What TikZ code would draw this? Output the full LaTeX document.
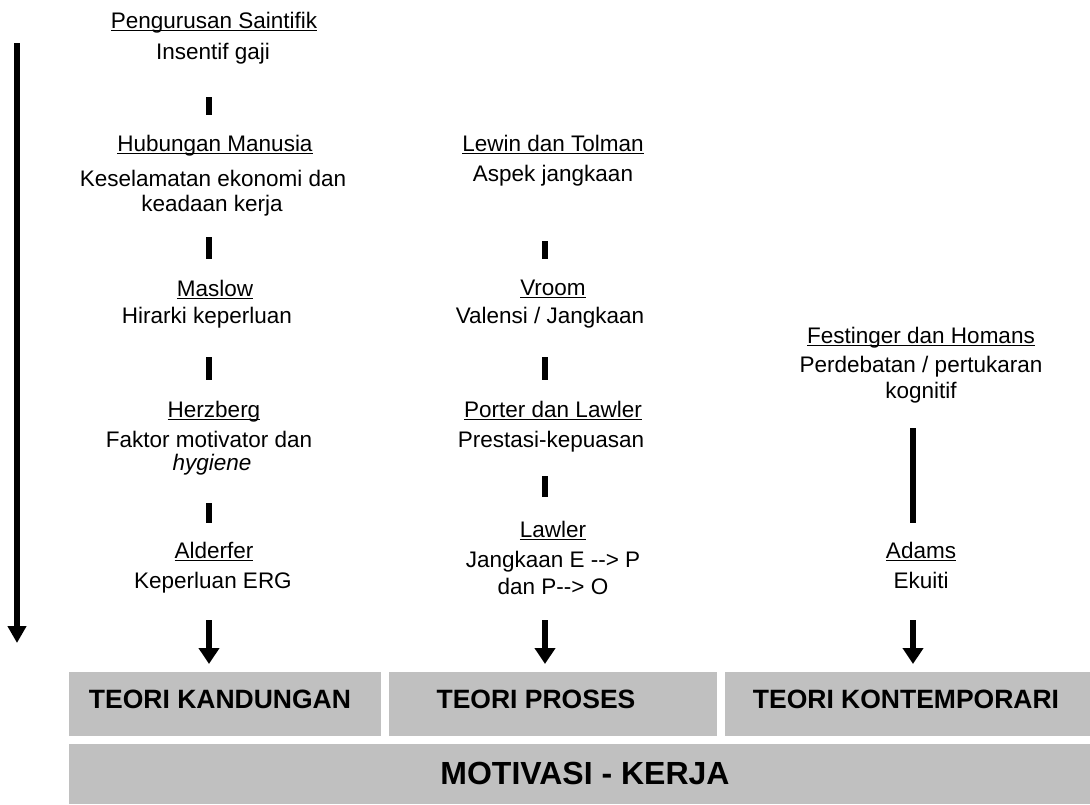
\documentclass[tikz,border=0pt]{standalone}
\usepackage{fontspec}
\setmainfont{Liberation Sans}
\usetikzlibrary{arrows.meta}

\definecolor{panelgray}{RGB}{192,192,192}

% underlined heading with the rule at a fixed depth below the baseline
\newsavebox\hdbox
\newcommand\hd[1]{\sbox\hdbox{#1}\rlap{\rule[-3.2pt]{\wd\hdbox}{1.5pt}}\usebox\hdbox}

\tikzset{
  txt/.style={anchor=base, inner sep=0pt, font=\fontsize{22.5}{26}\selectfont},
  lbl/.style={anchor=base, inner sep=0pt, font=\bfseries\fontsize{26.5}{30}\selectfont},
  bigl/.style={anchor=base, inner sep=0pt, font=\bfseries\fontsize{32}{36}\selectfont},
  bar/.style={line width=5.5pt},
  arr/.style={line width=6pt, -{Triangle[length=16pt,width=20pt]}},
  longarr/.style={line width=6pt, -{Triangle[length=17pt,width=18pt]}},
  panel/.style={fill=panelgray, draw=none, inner sep=0pt, anchor=north west},
}

\begin{document}
\begin{tikzpicture}[x=1pt,y=-1pt]
\useasboundingbox (0,0) rectangle (1090,804);

% ---- panels at the foot
\node[panel, minimum width=312pt, minimum height=64pt] (k1) at (69,672) {};
\node[panel, minimum width=328pt, minimum height=64pt] (k2) at (389,672) {};
\node[panel, minimum width=365pt, minimum height=64pt] (k3) at (725,672) {};
\node[panel, minimum width=1021pt, minimum height=60pt] (mk) at (69,744) {};

\node[lbl] (k1t) at (220,708) {TEORI KANDUNGAN};
\node[lbl] (k2t) at (536,708) {TEORI PROSES};
\node[lbl] (k3t) at (906,708) {TEORI KONTEMPORARI};
\node[bigl] (mkt) at (585,784) {MOTIVASI - KERJA};

% ---- content theories
\node[txt] (a1) at (214,28) {\hd{Pengurusan Saintifik}};
\node[txt] (a2) at (213,59) {Insentif gaji};
\node[txt] (b1) at (215,151) {\hd{Hubungan Manusia}};
\node[txt] (b2) at (213,186) {Keselamatan ekonomi dan};
\node[txt] (b3) at (212,211) {keadaan kerja};
\node[txt] (c1) at (215,296) {\hd{Maslow}};
\node[txt] (c2) at (207,323) {Hirarki keperluan};
\node[txt] (d1) at (214,417) {\hd{Herzberg}};
\node[txt] (d2) at (209,447) {Faktor motivator dan};
\node[txt] (d3) at (212,470) {\textit{hygiene}};
\node[txt] (e1) at (214,558) {\hd{Alderfer}};
\node[txt] (e2) at (213,588) {Keperluan ERG};

% ---- process theories
\node[txt] (f1) at (553,151) {\hd{Lewin dan Tolman}};
\node[txt] (f2) at (553,181) {Aspek jangkaan};
\node[txt] (g1) at (553,295) {\hd{Vroom}};
\node[txt] (g2) at (550,323) {Valensi / Jangkaan};
\node[txt] (h1) at (553,417) {\hd{Porter dan Lawler}};
\node[txt] (h2) at (551,447) {Prestasi-kepuasan};
\node[txt] (i1) at (553,537) {\hd{Lawler}};
\node[txt] (i2) at (553,567) {Jangkaan E -{}-> P};
\node[txt] (i3) at (553,594) {dan P-{}-> O};

% ---- contemporary theories
\node[txt] (j1) at (921,343) {\hd{Festinger dan Homans}};
\node[txt] (j2) at (921,372) {Perdebatan / pertukaran};
\node[txt] (j3) at (921,398) {kognitif};
\node[txt] (m1) at (921,558) {\hd{Adams}};
\node[txt] (m2) at (921,588) {Ekuiti};

% ---- short links between the steps
\coordinate (p1a) at (209,97);  \coordinate (p1b) at (209,115);
\coordinate (p2a) at (209,237); \coordinate (p2b) at (209,259);
\coordinate (p3a) at (209,357); \coordinate (p3b) at (209,380);
\coordinate (p4a) at (209,503); \coordinate (p4b) at (209,523);
\coordinate (q1a) at (545,241); \coordinate (q1b) at (545,259);
\coordinate (q2a) at (545,357); \coordinate (q2b) at (545,380);
\coordinate (q3a) at (545,476); \coordinate (q3b) at (545,497);
\coordinate (r1a) at (913,428); \coordinate (r1b) at (913,523);
\foreach \s in {p1,p2,p3,p4,q1,q2,q3,r1}
  \draw[bar] (\s a) -- (\s b);

% ---- arrows into the panels
\coordinate (s1) at (209,620);
\coordinate (s2) at (545,620);
\coordinate (s3) at (913,620);
\draw[arr, shorten >=8pt] (s1) -- (s1 |- k1.north);
\draw[arr, shorten >=8pt] (s2) -- (s2 |- k2.north);
\draw[arr, shorten >=8pt] (s3) -- (s3 |- k3.north);

% ---- long time arrow at the left
\coordinate (t0) at (17,43);
\coordinate (t1) at (17,643);
\draw[longarr] (t0) -- (t1);
\end{tikzpicture}
\end{document}
